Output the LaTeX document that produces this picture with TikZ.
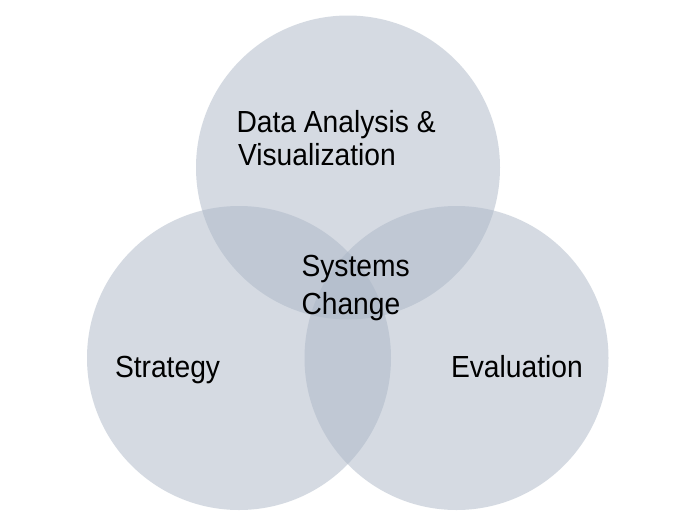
\documentclass[tikz,border=0pt]{standalone}
\usepackage{fontspec}
\setmainfont{Liberation Sans}[FakeStretch=0.925]
\definecolor{vennfill}{RGB}{172,183,199}
\begin{document}
\begin{tikzpicture}[x=1pt,y=-1pt,
  venn/.style={fill=vennfill,fill opacity=0.5,draw=none},
  lbl/.style={anchor=base west,inner sep=0pt,outer sep=0pt,text=black,font=\fontsize{30.5}{33}\selectfont}]
\useasboundingbox (0,0) rectangle (691,528);
\fill[white] (0,0) rectangle (691,528);
\fill[venn] (348,167.5) circle[radius=152];
\fill[venn] (239,358) circle[radius=152];
\fill[venn] (456.5,358) circle[radius=152];
\node[lbl] (dav1) at (236.5,132) {Data Analysis \&};
\node[lbl] (dav2) at (238,165) {Visualization};
\node[lbl] (sc1) at (301.5,276) {Systems};
\node[lbl] (sc2) at (301.5,314) {Change};
\node[lbl] (strat) at (115,377.5) {Strategy};
\node[lbl] (eval) at (451,377.5) {Evaluation};
\end{tikzpicture}
\end{document}
